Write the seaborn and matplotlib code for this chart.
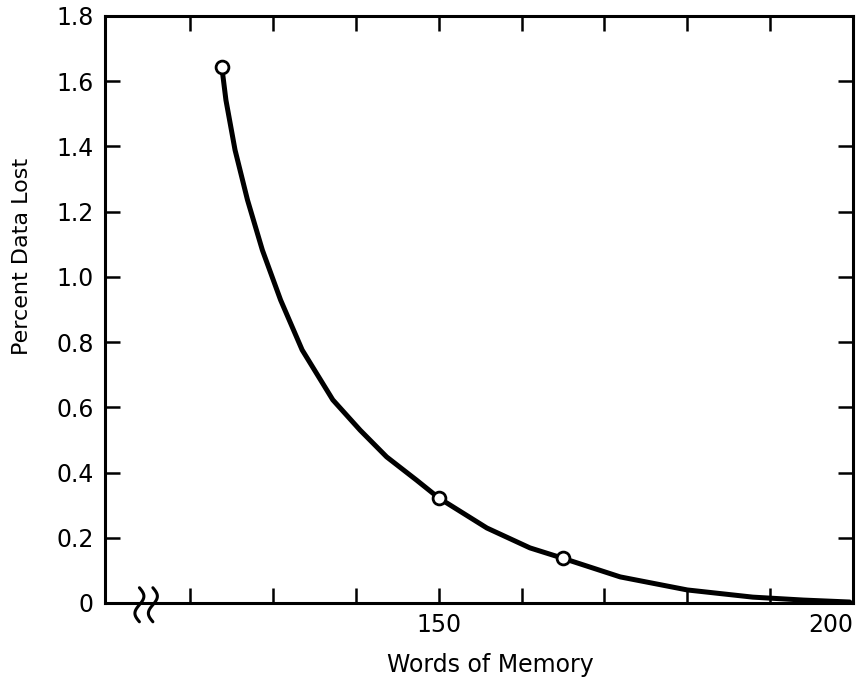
import numpy as np
import pandas as pd
import matplotlib
matplotlib.use("Agg")
import matplotlib.pyplot as plt
import seaborn as sns

# Curve
curve_words = [123.8, 124.3, 125.4, 126.9, 128.7, 130.9, 133.5, 137.2, 140.5, 143.7,
               147.3, 150.0, 155.8, 161.0, 165.0, 171.9, 180.0, 187.9, 194.0, 199.6]
curve_loss = [1.644, 1.542, 1.389, 1.236, 1.082, 0.929, 0.776, 0.623, 0.530, 0.448,
              0.377, 0.322, 0.230, 0.169, 0.137, 0.080, 0.040, 0.018, 0.009, 0.003]

# Measured points (open circles)
point_words = [123.8, 150.0, 165.0]
point_loss = [1.644, 0.322, 0.137]

x_ticks = [120, 130, 140, 150, 160, 170, 180, 190, 200]
x_labels = ["", "", "", "150", "", "", "", "", "200"]
y_ticks = [0, 0.2, 0.4, 0.6, 0.8, 1.0, 1.2, 1.4, 1.6, 1.8]
y_labels = ["0", "0.2", "0.4", "0.6", "0.8", "1.0", "1.2", "1.4", "1.6", "1.8"]

sns.set_style("ticks")
plt.rcParams["font.family"] = ["DejaVu Sans"]

fig = plt.figure(figsize=(8.59, 6.84), dpi=100)
ax = fig.add_axes([105 / 859, 81 / 684, 748 / 859, 587 / 684])

curve_df = pd.DataFrame({"words": curve_words, "loss": curve_loss})
pts_df = pd.DataFrame({"words": point_words, "loss": point_loss})

sns.lineplot(data=curve_df, x="words", y="loss", ax=ax, color="black",
             linewidth=3.6, sort=True, estimator=None)
sns.scatterplot(data=pts_df, x="words", y="loss", ax=ax, s=85, marker="o",
                facecolor="white", edgecolor="black", linewidth=2.0, zorder=5)

ax.set_xlim(109.7, 200)
ax.set_ylim(0, 1.8)
ax.set_xticks(x_ticks)
ax.set_xticklabels(x_labels)
ax.set_yticks(y_ticks)
ax.set_yticklabels(y_labels)

for s in ax.spines.values():
    s.set_linewidth(2.2)
    s.set_color("black")

ax.tick_params(axis="both", which="both", direction="in", length=11, width=1.8,
               top=True, right=True, labelsize=17, colors="black",
               labelcolor="black")
ax.tick_params(axis="x", pad=7)
ax.tick_params(axis="y", pad=8)
ax.get_xticklabels()[-1].set_horizontalalignment("right")
ax.get_xticklabels()[-1].set_x(0)

ax.set_xlabel("Words of Memory", fontsize=17, labelpad=12, color="black")
ax.set_ylabel("Percent Data Lost", fontsize=16, color="black")
ax.xaxis.set_label_coords(0.515, -0.085)
ax.yaxis.set_label_coords(-0.097, 0.59)

# axis break symbol on the x axis
t = np.linspace(0, 1, 60)
for xc in (0.046, 0.064):
    xs = xc + 0.006 * np.sin(2 * np.pi * t)
    ys = 0.026 - t * 0.058
    ax.plot(xs, ys, transform=ax.transAxes, color="black", linewidth=2.2,
            clip_on=False, zorder=6)

fig.savefig("out.png", dpi=100)
